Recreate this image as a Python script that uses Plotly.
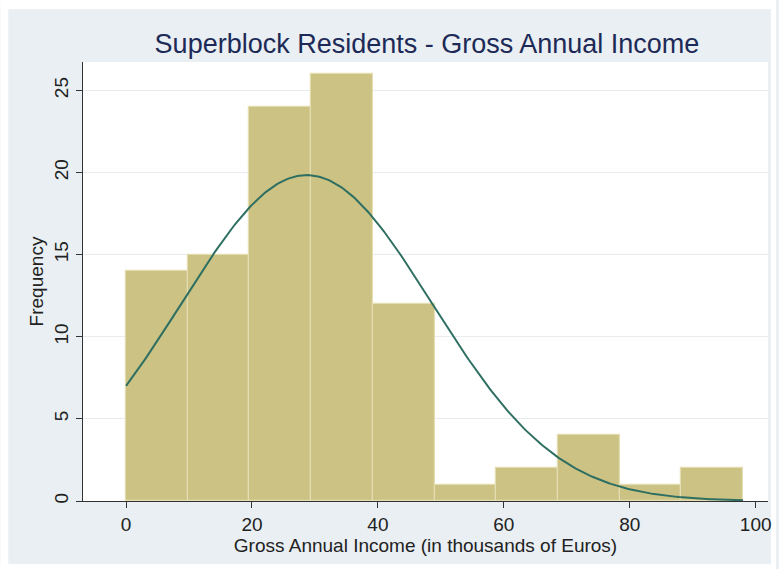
import numpy as np
import plotly.graph_objects as go

# Histogram bins (thousands of euros) and observed counts
bin_start = 0.0
bin_width = 9.8
counts = [14, 15, 24, 26, 12, 1, 2, 4, 1, 2]

# Normal-density overlay parameters (scaled to frequency)
income_mean = 28.7
income_sd = 19.9

x_ticks = [0, 20, 40, 60, 80, 100]
y_ticks = [0, 5, 10, 15, 20, 25]

n_obs = sum(counts)
edges = bin_start + bin_width * np.arange(len(counts) + 1)
centers = (edges[:-1] + edges[1:]) / 2

xs = np.linspace(edges[0], edges[-1], 300)
dens = (n_obs * bin_width / (income_sd * np.sqrt(2 * np.pi))
        * np.exp(-0.5 * ((xs - income_mean) / income_sd) ** 2))

BG = "#e9eff2"
FONT = "Liberation Sans, Arial, sans-serif"

fig = go.Figure()
fig.add_trace(go.Bar(
    x=centers, y=counts, width=bin_width,
    marker=dict(color="#ccc283", line=dict(color="#e3ddb0", width=1.2)),
    hoverinfo="x+y", showlegend=False,
))
fig.add_trace(go.Scatter(
    x=xs, y=dens, mode="lines",
    line=dict(color="#2f6f62", width=2), showlegend=False,
))

W, H = 779, 569
ml, mr, mt, mb = 83, 8, 62, 68
pw, ph = W - ml - mr, H - mt - mb

def px_x(p):
    return (p - ml) / pw

def px_y(p):
    return 1 - (p - mt) / ph

# Light outer frame around the graph region
frame = [
    (0, 0, W, 9), (0, H - 5, W, H), (0, 0, 8, H), (W - 5, 0, W, H),
]
shapes = [
    dict(type="rect", xref="paper", yref="paper", layer="below",
         x0=px_x(a), x1=px_x(c), y0=px_y(d), y1=px_y(b),
         fillcolor="white", line=dict(width=0))
    for a, b, c, d in frame
]

fig.update_layout(
    width=W, height=H,
    margin=dict(l=ml, r=mr, t=mt, b=mb),
    paper_bgcolor=BG, plot_bgcolor="white",
    bargap=0,
    font=dict(family=FONT, color="#222222", size=19),
    title=dict(text="Superblock Residents - Gross Annual Income",
               xref="container", x=(ml + W - mr) / 2 / W, xanchor="center",
               y=1 - 44 / H, yanchor="middle",
               font=dict(family=FONT, size=27, color="#1d2a57")),
    shapes=shapes,
    xaxis=dict(
        range=[-6.84, 101.96], tickvals=x_ticks, ticks="outside",
        ticklen=6, tickcolor="#333333", showgrid=False, zeroline=False,
        showline=True, linecolor="#333333", linewidth=1,
        tickfont=dict(size=19),
        title=dict(text="Gross Annual Income (in thousands of Euros)",
                   font=dict(size=19), standoff=3),
    ),
    yaxis=dict(
        range=[0, 26.73], tickvals=y_ticks, ticks="outside",
        ticklen=6, tickcolor="#333333", tickangle=-90,
        showgrid=True, gridcolor="#e8ecef", gridwidth=1,
        zeroline=False, showline=True, linecolor="#333333", linewidth=1,
        tickfont=dict(size=19),
        title=dict(text="Frequency", font=dict(size=19), standoff=2),
    ),
)

fig.write_html("out.html")
